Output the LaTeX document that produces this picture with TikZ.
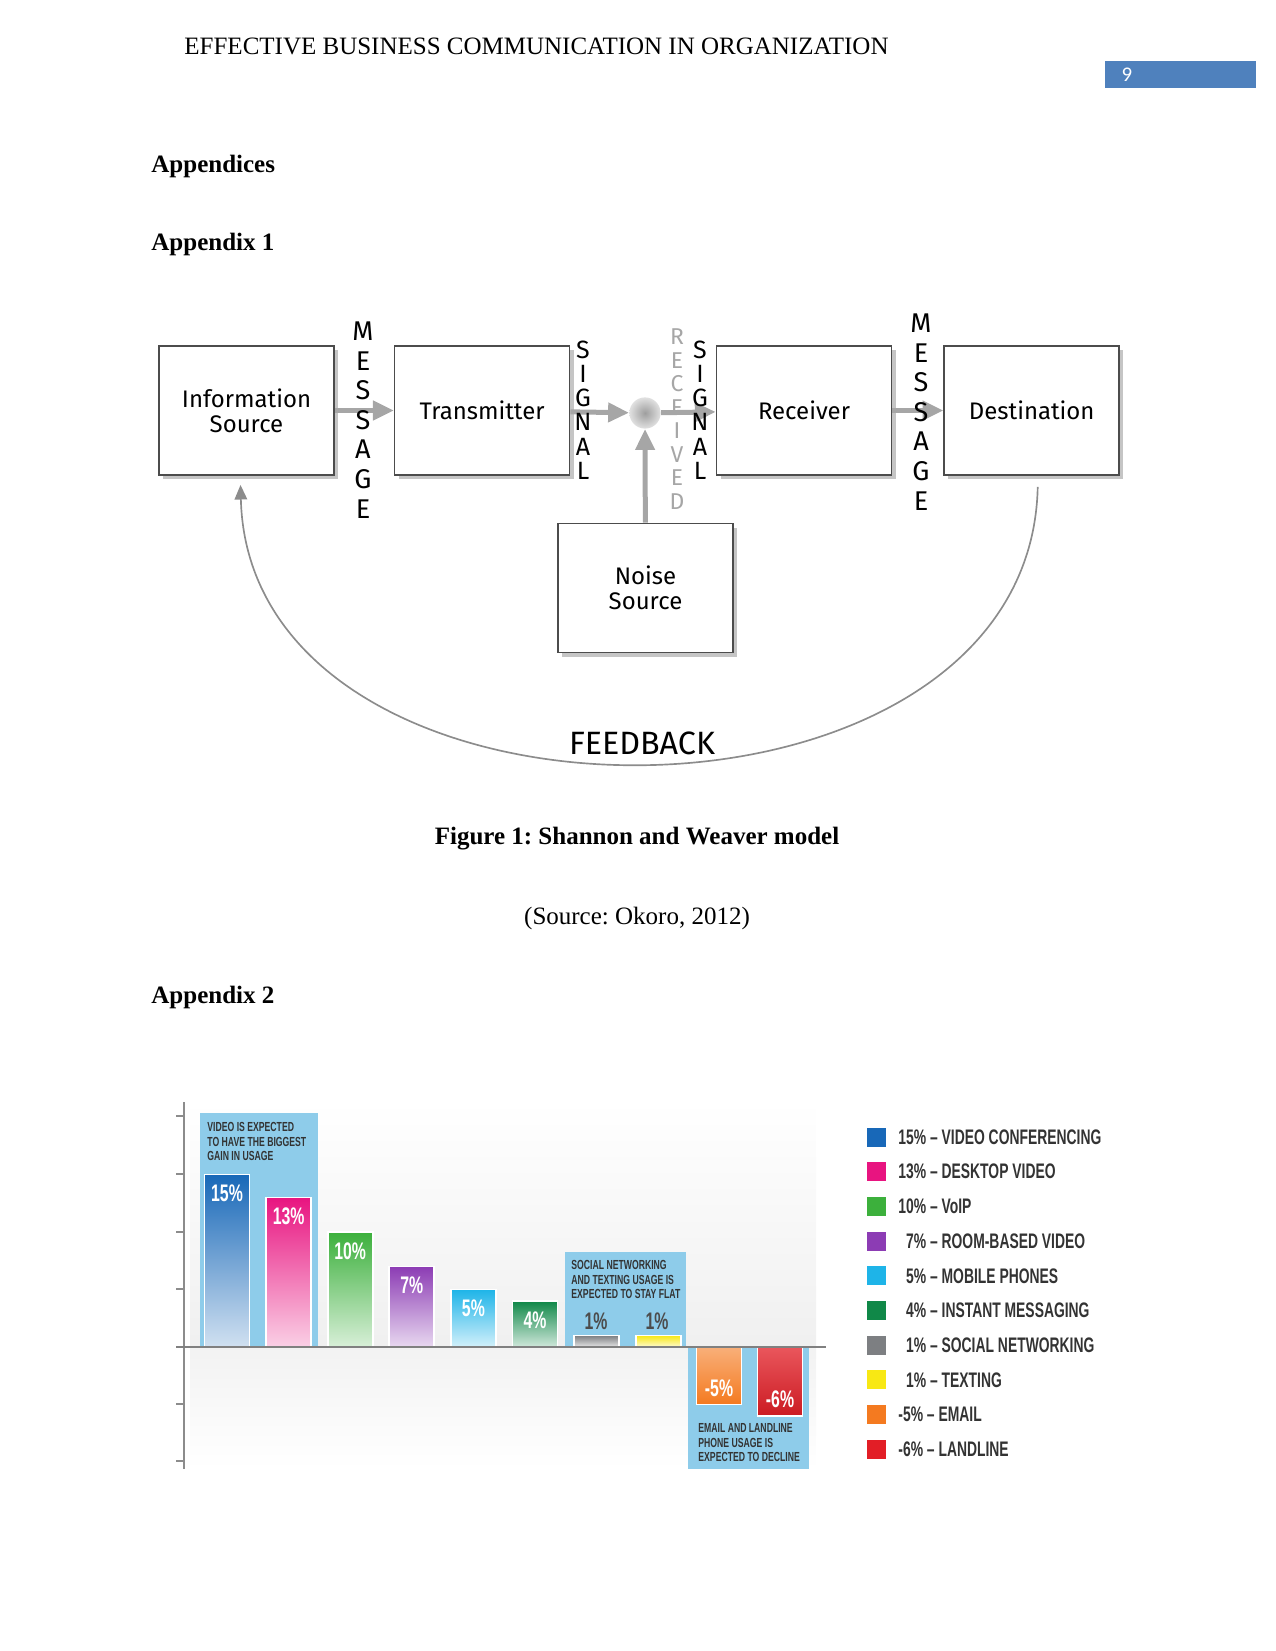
\documentclass[tikz,border=0pt]{standalone}
\usepackage{fontspec}
\setmainfont{Liberation Serif}
\newfontfamily\handfont{Fira Sans}
\newfontfamily\numfont{Carlito}
\newfontfamily\chartfont[FakeStretch=0.66]{Liberation Sans}
\usetikzlibrary{positioning,shadows,arrows.meta}
\frenchspacing

\definecolor{pnblue}{RGB}{79,129,189}
\definecolor{callout}{RGB}{142,204,234}
\definecolor{cblue}{RGB}{24,104,184}
\definecolor{cpink}{RGB}{232,20,128}
\definecolor{cgreen}{RGB}{60,176,60}
\definecolor{cpurple}{RGB}{140,60,180}
\definecolor{ccyan}{RGB}{30,180,232}
\definecolor{cdgreen}{RGB}{16,136,72}
\definecolor{cgray}{RGB}{125,127,130}
\definecolor{cyellow}{RGB}{248,232,20}
\definecolor{corange}{RGB}{244,122,32}
\definecolor{cred}{RGB}{226,30,38}

\begin{document}
\begin{tikzpicture}[x=0.48pt, y=-0.48pt,
    box/.style={draw=black!70, thick, fill=white, minimum width=84pt,
                minimum height=62pt, align=center,
                font=\handfont\fontsize{11.5}{12}\selectfont,
                drop shadow={shadow xshift=2pt, shadow yshift=-2pt, fill=black!45}},
    flow/.style={draw=black!35, line width=2.4pt, -{Triangle[length=10pt,width=9pt]}},
    vlet/.style={align=center, inner sep=0pt, font=\handfont\fontsize{13}{14.2}\selectfont},
    heading/.style={anchor=west, inner sep=0pt, font=\bfseries\fontsize{12}{14}\selectfont},
    note/.style={anchor=north west, align=left, inner sep=0pt, text=black!80,
                 font=\chartfont\bfseries\fontsize{6.3}{7}\selectfont},
    barlbl/.style={text=white, inner sep=0pt, font=\chartfont\bfseries\fontsize{11.5}{12}\selectfont},
    legtxt/.style={anchor=west, inner sep=0pt, text=black!80,
                   font=\chartfont\bfseries\fontsize{10.1}{12}\selectfont}]
  \useasboundingbox (0,0) rectangle (1275,1651);

  % page head
  \node[anchor=west, inner sep=0pt, font=\fontsize{12}{14}\selectfont] (head) at (184,46)
    {EFFECTIVE BUSINESS COMMUNICATION IN ORGANIZATION};
  \fill[pnblue] (1105,61) rectangle (1256,88);
  \node[text=white, font=\numfont\fontsize{10}{12}\selectfont] (pgno) at (1127,74.5) {9};

  \node[heading] (appx) at (151,166) {Appendices};
  \node[heading] (appa) at (151,244) {Appendix 1};

  % Shannon--Weaver model
  \node[box] (info) at (246.5,410.5) {Information\\Source};
  \node[box, right=28.3pt of info] (trans) {Transmitter};
  \node[box] (recv) at (804,410.5) {Receiver};
  \node[box, right=24.5pt of recv] (dest) {Destination};
  \node[box] (noise) at (645.5,588) {Noise\\Source};
  \node[circle, minimum size=15pt, inner sep=0pt,
        inner color=black!38, outer color=black!12] (junc) at (645,413) {};

  \draw[flow] (info) -- (trans);
  \draw[flow] (trans) -- (junc);
  \draw[flow] (junc) -- (recv);
  \draw[flow] (recv) -- (dest);
  \draw[flow] (noise) -- (junc);

  \node[vlet] (msga) at (363,420) {M\\E\\S\\S\\A\\G\\E};
  \node[vlet, font=\handfont\fontsize{12}{11.6}\selectfont] (siga) at (583,410) {S\\I\\G\\N\\A\\L};
  \node[vlet, text=black!35, font=\handfont\fontsize{11}{11.3}\selectfont] (rcvd) at (677,419) {R\\E\\C\\E\\I\\V\\E\\D};
  \node[vlet, font=\handfont\fontsize{12}{11.6}\selectfont] (sigb) at (700,410) {S\\I\\G\\N\\A\\L};
  \node[vlet] (msgb) at (921,412) {M\\E\\S\\S\\A\\G\\E};

  \draw[black!45, thick, -{Triangle[length=7pt,width=6pt]}]
    ([shift={(6,11)}]dest.south) .. controls (1030,856) and (250,856)
    .. ([shift={(-6,9)}]info.south);
  \node[font=\handfont\fontsize{15.5}{16}\selectfont] (fb) at (642,743) {FEEDBACK};

  \node[font=\bfseries\fontsize{12}{14}\selectfont] (cap) at (637,839)
    {Figure 1: Shannon and Weaver model};
  \node[font=\fontsize{12}{14}\selectfont] (src) at (637,918) {(Source: Okoro, 2012)};
  \node[heading] (appb) at (151,997) {Appendix 2};

  % bar chart
  \shade[top color=white, bottom color=black!6] (190,1100) rectangle (816,1347);
  \shade[top color=black!5, bottom color=white] (190,1347) rectangle (816,1469);
  \fill[callout] (200,1113) rectangle (318,1347);
  \fill[callout] (565,1252) rectangle (686,1347);
  \fill[callout] (688,1347) rectangle (809,1469);
  \draw[black!45, line width=1pt] (184,1102) -- (184,1469);
  \foreach \t in {1116,1174,1232,1289,1404,1461}
    \draw[black!45, line width=1pt] (176,\t) -- (184,\t);

  \foreach \v/\c [count=\i] in {15/cblue,13/cpink,10/cgreen,7/cpurple,
                                5/ccyan,4/cdgreen,1/cgray,1/cyellow} {
    \pgfmathsetmacro\xc{227+61.6*(\i-1)}
    \shade[top color=\c, middle color=\c!85, bottom color=\c!20, draw=white, line width=0.8pt]
      (\xc-22.5,1347-11.5*\v) rectangle (\xc+22.5,1347);
  }
  \foreach \v [count=\i] in {15,13,10,7,5,4}
    \node[barlbl] (pct\i) at ({227+61.6*(\i-1)},{1347-11.5*\v+19}) {\v\%};
  \node[barlbl, text=black!70] (pct7) at (596,1321) {1\%};
  \node[barlbl, text=black!70] (pct8) at (657,1321) {1\%};

  \shade[top color=corange!60, bottom color=corange, draw=white, line width=0.8pt]
    (696.5,1347) rectangle (741.5,1404.5);
  \shade[top color=cred!75, bottom color=cred!90!black, draw=white, line width=0.8pt]
    (757.5,1347) rectangle (802.5,1416);
  \node[barlbl] (pct9) at (719,1388) {-5\%};
  \node[barlbl] (pct10) at (780,1399) {-6\%};

  \draw[black!50, line width=1.4pt] (176,1347) -- (826,1347);

  \node[note] (noteup) at (207,1122) {VIDEO IS EXPECTED\\TO HAVE THE BIGGEST\\GAIN IN USAGE};
  \node[note] (noteflat) at (571,1260) {SOCIAL NETWORKING\\AND TEXTING USAGE IS\\EXPECTED TO STAY FLAT};
  \node[note] (notedown) at (698,1423) {EMAIL AND LANDLINE\\PHONE USAGE IS\\EXPECTED TO DECLINE};

  % legend
  \foreach \c/\txt [count=\i] in {cblue/15\% – VIDEO CONFERENCING,
      cpink/13\% – DESKTOP VIDEO, cgreen/10\% – VoIP,
      cpurple/\hphantom{1}7\% – ROOM-BASED VIDEO,
      ccyan/\hphantom{1}5\% – MOBILE PHONES,
      cdgreen/\hphantom{1}4\% – INSTANT MESSAGING,
      cgray/\hphantom{1}1\% – SOCIAL NETWORKING,
      cyellow/\hphantom{1}1\% – TEXTING,
      corange/-5\% – EMAIL, cred/-6\% – LANDLINE} {
    \pgfmathsetmacro\yl{1137+34.7*(\i-1)}
    \fill[\c] (867,\yl-9.5) rectangle (886,\yl+9.5);
    \node[legtxt] (leg\i) at (898,\yl) {\txt};
  }
\end{tikzpicture}
\end{document}
